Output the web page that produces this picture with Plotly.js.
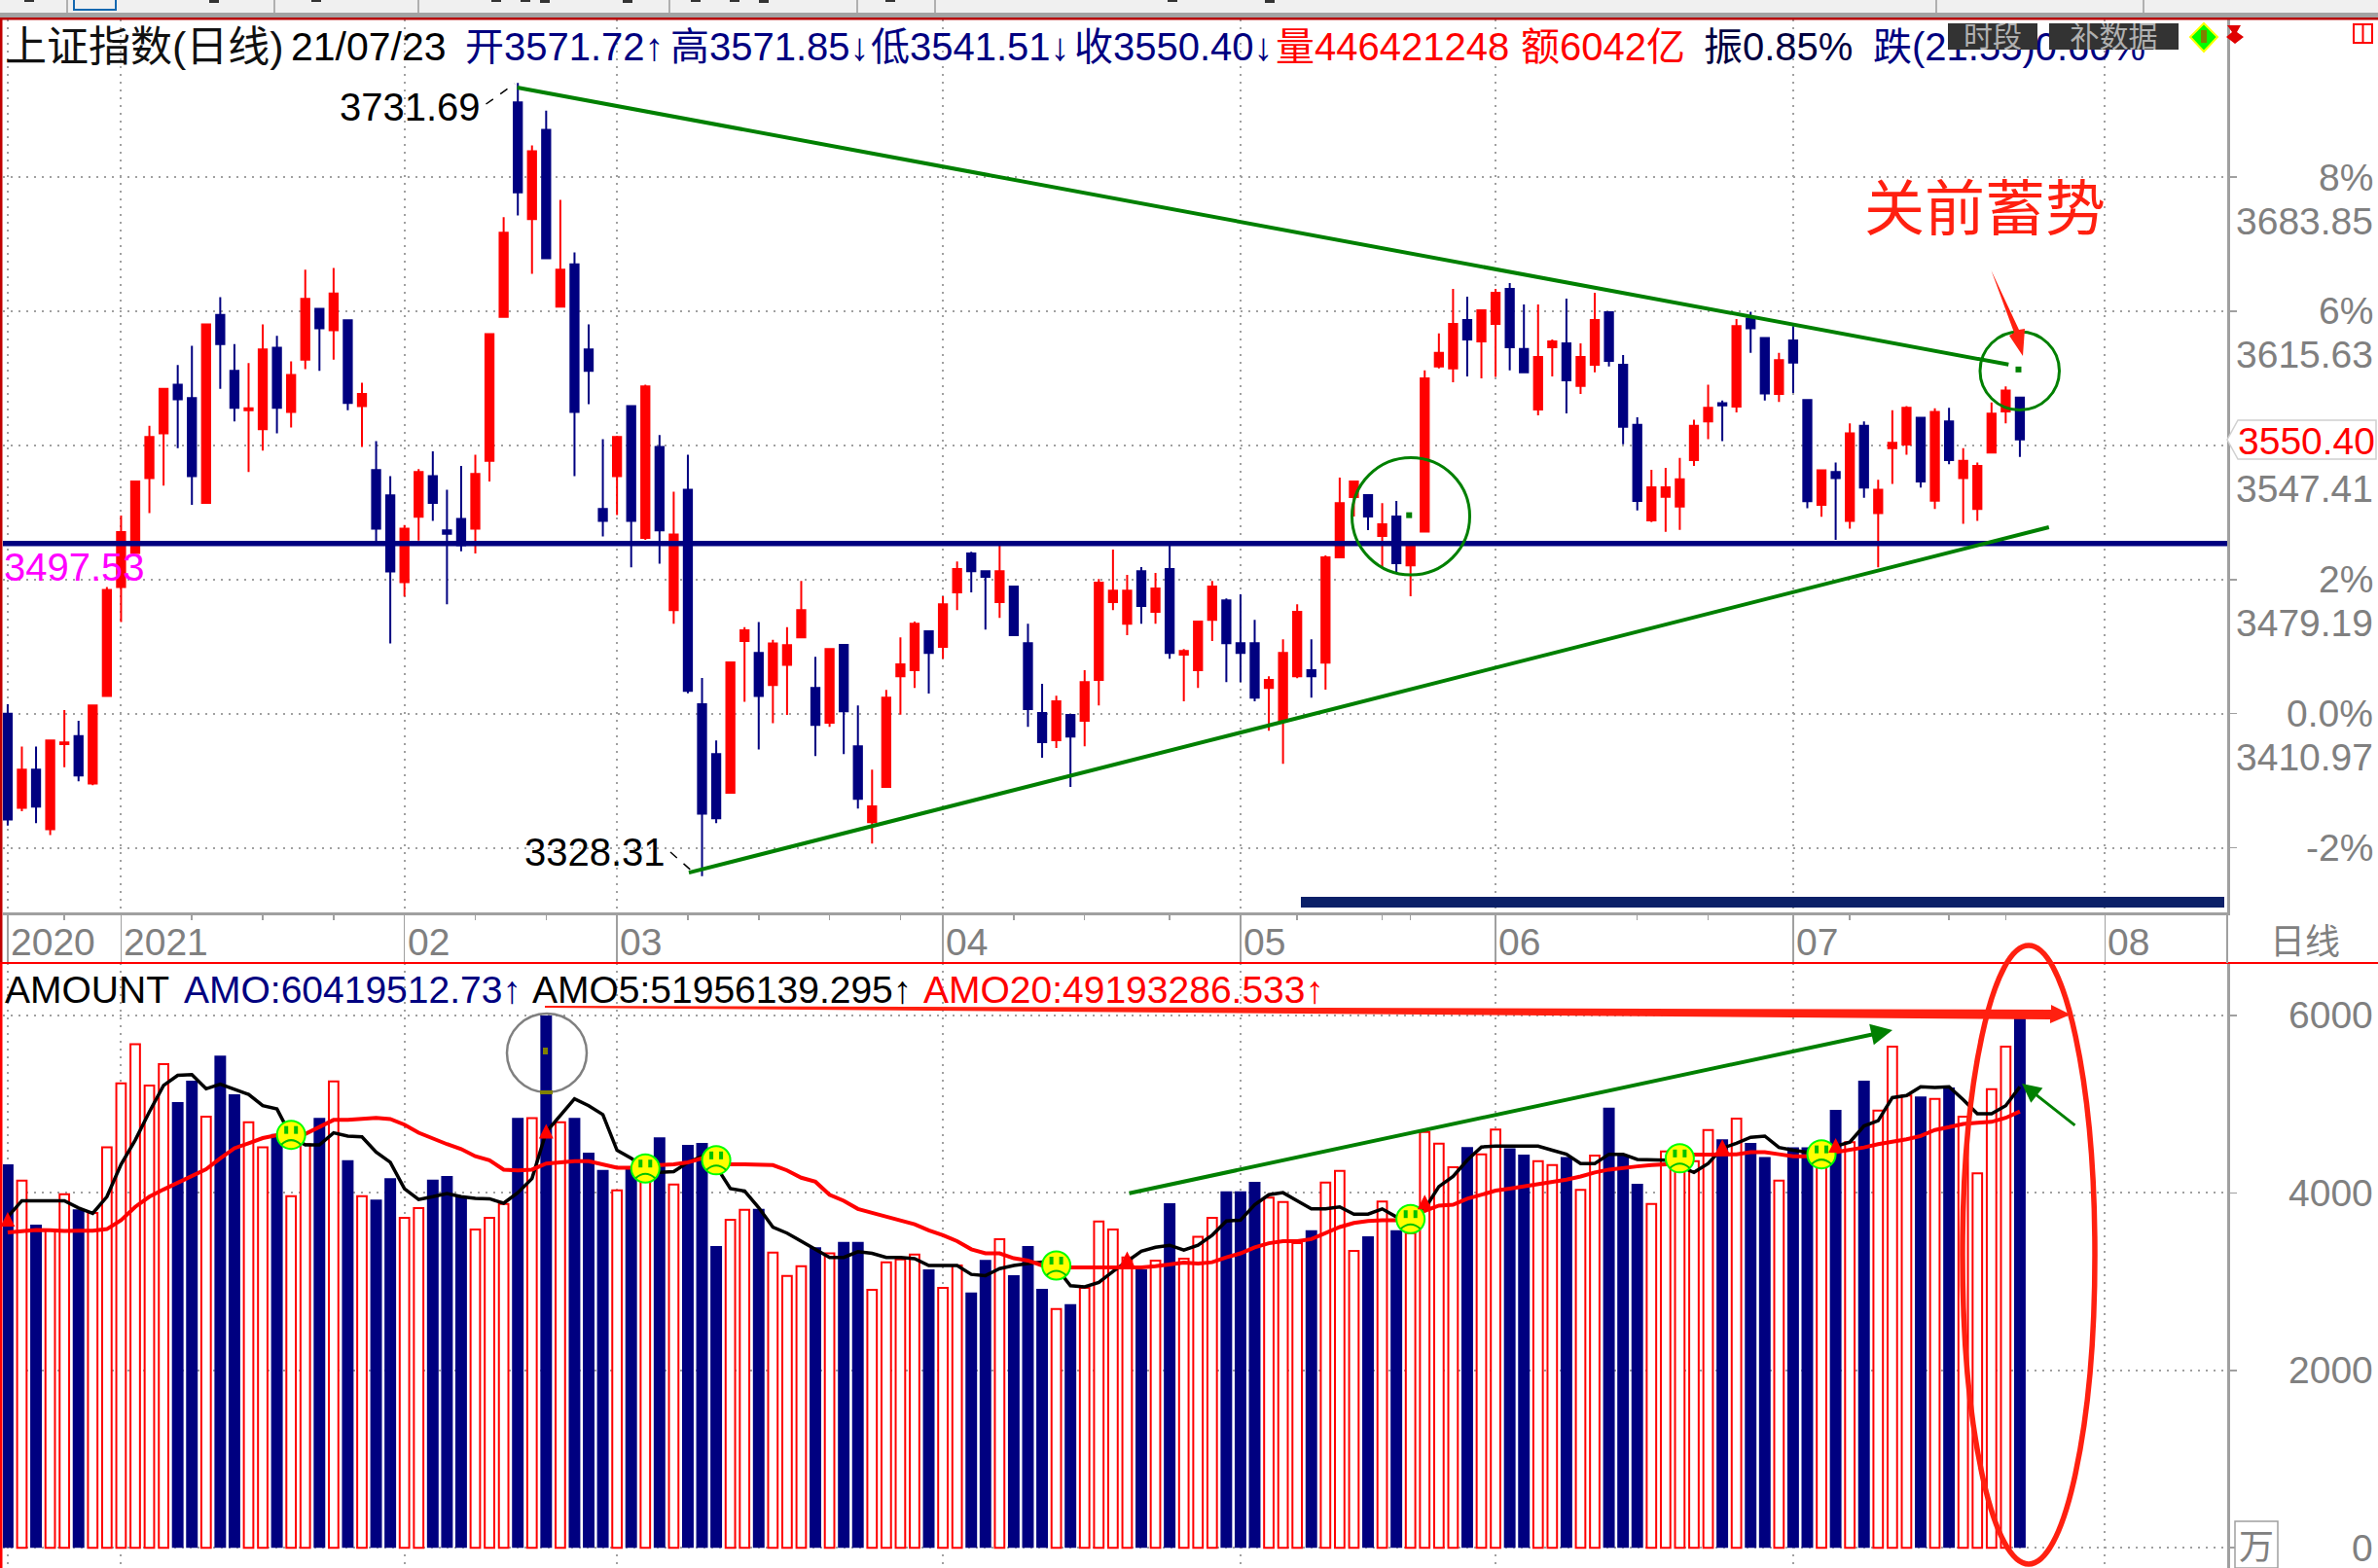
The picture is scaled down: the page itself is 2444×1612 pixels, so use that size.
<!DOCTYPE html>
<html><head><meta charset="utf-8">
<script src="https://cdn.plot.ly/plotly-3.0.1.min.js"></script>
<style>html,body{margin:0;padding:0;background:#fff}#c{width:2444px;height:1612px}</style>
</head><body><div id="c"></div>
<script>
// Candles, one per trading day, 2020-12-22 .. 2021-07-23
const opens=[3410.97,3363.1,3382.5,3352.2,3395.5,3399.5,3375.5,3420,3475.4,3492.7,3530.8,3553.5,3578.3,3571.4,3518.1,3613.7,3585.3,3565.3,3555.6,3597.1,3564.4,3591,3616.8,3605.9,3611,3567.4,3534.8,3522,3477.8,3511.1,3531.7,3504.2,3510,3505.1,3539.6,3612.8,3721.8,3662.5,3707.9,3618,3639.5,3596.2,3515.1,3531.7,3567.4,3500.3,3546.6,3463.6,3524.8,3415.8,3390.4,3370.7,3447.9,3441.8,3425.5,3435.8,
3449.8,3424,3406.4,3445.9,3394.4,3355.8,3373.7,3430,3433.1,3452.8,3444.9,3472.6,3492.4,3483.4,3467.7,3475.6,3446.8,3411.3,3397.4,3410.3,3407.3,3428.1,3467.7,3456.7,3483.4,3462.8,3484.5,3441,3433.1,3458.7,3468.6,3446.8,3446.8,3424,3407.3,3430,3433.1,3436.9,3490.5,3521.1,3522.1,3501.3,3511.2,3486.4,
3503.6,3587.5,3586.5,3611.2,3600.3,3609.2,3627,3596.4,3565.7,3597.3,3599.3,3577.6,3588.4,3615.1,3588.4,3557.8,3509.3,3521.2,3516.3,3539.9,3559.6,3568.9,3567.1,3611.9,3602,3573.5,3600.7,3570.5,3517.2,3533.8,3509,3557.4,3513,3546,3547.8,3561.4,3519.3,3559.6,3530.8,3515.1,3543.8,3564.7,3571.72];
const highs=[3415.8,3394.3,3394.3,3397.3,3412.8,3407.3,3415.2,3475.4,3511.7,3529,3557.4,3576.2,3588.3,3598,3608.9,3622.8,3598.9,3589.2,3608.9,3603.1,3590.1,3636.7,3616.8,3637.6,3611,3579.2,3549.6,3531.7,3506.9,3535.3,3544.4,3524.8,3536.9,3542.6,3604,3663.4,3731.69,3700,3717.6,3672.2,3645.5,3608.9,3550.5,3552.3,3567.4,3578.3,3552.6,3523.8,3542.6,3429.1,3397.3,3437,3454.9,3457.6,3448.5,3454.9,
3478.5,3439.9,3443.8,3445.9,3415.2,3382.5,3423,3449.8,3457.8,3452.8,3470.7,3488.4,3493.3,3483.4,3497.4,3475.6,3456.7,3426.2,3420.1,3410.3,3433.1,3479.5,3494.4,3481.5,3485.5,3482.5,3497.4,3443.8,3457.8,3478.5,3469.6,3471.6,3458.7,3430,3448.8,3466.6,3448.8,3491.4,3531,3529,3522.1,3518,3519.1,3496.5,
3585.5,3604.3,3627,3623,3616.1,3627,3630,3619.1,3619.1,3601.3,3622,3599.3,3625,3615.1,3593.4,3561.7,3535,3536,3541,3560.5,3578.3,3570.2,3611.6,3615.3,3602,3594.4,3608,3570.5,3534.7,3538.7,3558.6,3559.6,3529.9,3565.3,3567.4,3561.4,3566.2,3566.5,3546,3538.7,3569.2,3577.4,3571.85];
const lows=[3354.1,3361.3,3355.3,3349.2,3383.7,3376.5,3374.6,3420,3457.6,3492.7,3513,3526.9,3546,3517.2,3518.1,3576.2,3559.6,3533.8,3544.7,3553.5,3556.5,3586.2,3585.3,3591,3565.3,3546.6,3498.1,3446.7,3470.6,3499,3509,3466.6,3493.6,3492.4,3529,3612.8,3664.3,3634.6,3642.5,3618,3531.7,3568.3,3501.1,3512,3485.4,3499.3,3487.2,3456.7,3421.3,3328.31,3355.3,3370.7,3417,3392.8,3406.1,3410.3,
3449.8,3389.4,3404.2,3390.4,3362.7,3344.9,3373.7,3410.4,3424,3421.2,3438.9,3463.6,3472.6,3453.7,3459.7,3450.9,3404.2,3388.5,3393.5,3373.7,3394.4,3415.2,3463.6,3450.9,3456.7,3456.7,3438.9,3417.2,3424,3447.9,3427,3427,3417.2,3402.3,3385.5,3429,3419.1,3423.2,3490.5,3511.2,3504.3,3485.5,3482.5,3470.7,
3503.6,3586.5,3579.5,3582.5,3581.5,3582.2,3585.5,3584.5,3562.7,3582.5,3563.7,3573.6,3584.5,3587.5,3547.9,3514.3,3508.4,3503.4,3504.4,3536.9,3550.5,3549.6,3564.1,3594.4,3570.2,3569.5,3574.1,3515.4,3511.1,3499.3,3505.1,3520.8,3485.4,3527.8,3542.6,3526,3515.1,3537.8,3507.5,3509,3543.8,3558.6,3541.51];
const closes=[3357.1,3382.5,3363.7,3397.3,3396.4,3379.5,3415.2,3473.9,3503.3,3529,3551.7,3576.2,3570.8,3531.7,3608.9,3598.9,3566.5,3566.2,3596.2,3566.5,3583.2,3621.9,3607,3624.6,3569,3573.5,3505.1,3483.3,3505.1,3533.8,3518.1,3502.4,3496.6,3532.9,3604,3655.5,3676.1,3697,3642.5,3636.7,3564.4,3585.3,3509,3551.7,3509,3577.4,3504.2,3502.1,3422.5,3360.1,3357.7,3437,3453.3,3420,3446.7,3445.8,
3463.6,3405.3,3443.8,3412.2,3367.6,3363.8,3419.1,3436.1,3456.7,3441.9,3466.6,3484.5,3483.4,3480.6,3483.4,3450.9,3413.3,3396.5,3417.2,3399.3,3427,3477.6,3473.5,3473.5,3465.7,3474.6,3441.9,3442.9,3457.8,3475.6,3446.8,3441.9,3419.1,3428.1,3441.9,3462.8,3430,3490.5,3518,3529,3511.2,3507.3,3487.5,3496.5,
3581.5,3594.4,3609.2,3601.3,3616.1,3625,3597.3,3584.5,3592.4,3600.3,3580.5,3592.4,3611.2,3590.4,3556.8,3519.2,3526.1,3526.1,3530.1,3557.4,3566.5,3567.7,3608,3607,3573.8,3590.7,3589.5,3519,3534.7,3530.8,3553.5,3526,3524.8,3548.7,3566.5,3529,3564.4,3539.9,3539.6,3536.9,3563.5,3575.3,3550.40];
// Turnover (unit: 万 scale as printed on the axis)
const amount=[4322,4140,3643,3579,3985,3816,3775,4513,5234,5676,5211,5453,5024,5266,4860,5548,5111,4796,4513,4664,3962,4550,4846,5257,4368,3962,3925,4167,3720,3830,4149,4190,3957,3588,3720,3875,4846,4842,6000,4796,4846,4454,4258,4030,4276,4185,4627,4094,4541,4564,3401,3697,3811,3820,3328,3064,
3173,3387,3319,3447,3447,2909,3219,3251,3305,3137,2931,3182,2877,3246,3479,3073,3401,2918,2690,2745,2931,3679,3588,3273,3137,3237,3884,3260,3506,3720,4017,4017,4126,3948,3898,3433,3579,4117,4249,3346,3510,3903,3579,3547,
4687,4554,4290,4518,4436,4714,4504,4431,4358,4313,4404,4035,4422,4960,4422,4103,3875,4468,4345,4358,4709,4605,4837,4564,4404,4140,4513,4513,4413,4937,4573,5266,4928,5649,5097,5088,5060,5188,4860,4222,5170,5649,6042];
const amo5=[3729,3912,3912,3912,3912,3830,3770,3957,4322,4595,4915,5211,5325,5334,5174,5225,5165,5111,4983,4946,4641,4541,4541,4678,4641,4632,4459,4345,4048,3925,3957,3994,3957,3939,3934,3884,4003,4162,4687,4869,5060,4983,4883,4481,4390,4276,4231,4240,4345,4413,4299,4048,4021,3834,3615,3547,
3456,3355,3273,3273,3337,3319,3273,3273,3260,3182,3182,3182,3082,3068,3146,3182,3205,3219,3159,2954,2941,2991,3114,3228,3342,3387,3410,3355,3410,3524,3684,3693,3866,3980,4003,3912,3820,3820,3843,3761,3761,3820,3729,3684,
3820,4071,4185,4368,4518,4527,4527,4527,4527,4481,4436,4331,4331,4436,4436,4377,4368,4368,4299,4231,4331,4504,4559,4627,4641,4513,4481,4459,4436,4527,4573,4755,4814,5074,5097,5197,5188,5197,5051,4892,4892,4983,5196];
const amo20=[3556,3570,3583,3579,3570,3574,3574,3592,3693,3843,3957,4039,4117,4185,4267,4390,4504,4559,4618,4650,4641,4664,4741,4823,4823,4833,4846,4833,4769,4678,4609,4550,4495,4413,4368,4263,4254,4263,4331,4345,4358,4358,4322,4285,4285,4285,4313,4322,4345,4390,4345,4322,4322,4322,4313,4254,
4171,4126,3980,3912,3820,3775,3729,3684,3647,3579,3524,3456,3365,3319,3319,3264,3237,3182,3159,3159,3159,3159,3159,3159,3159,3173,3191,3214,3205,3219,3273,3319,3387,3433,3456,3456,3479,3547,3615,3661,3684,3693,3693,3706,
3798,3857,3866,3934,3980,4026,4048,4071,4094,4117,4149,4185,4231,4263,4285,4299,4313,4322,4377,4431,4431,4436,4436,4459,4459,4436,4413,4413,4413,4459,4481,4513,4550,4573,4605,4641,4709,4741,4778,4791,4801,4846,4919];
// Axis labels
const monthIdx=[0,8,28,43,66,87,105,126,148];
const monthText=['2020','2021','02','03','04','05','06','07','08'];
const weekIdx=[4,13,18,23,33,38,48,53,58,63,71,76,82,91,97,99,115,120,130,137,141];
const pctVals=[3274.53,3342.75,3410.97,3479.19,3547.41,3615.63,3683.85];
const priceTicks=[3410.97,3479.19,3547.41,3615.63,3683.85];
const priceText=['3410.97','3479.19','3547.41','3615.63','3683.85'];
const pctTicks=[3342.75,3410.97,3479.19,3615.63,3683.85];
const pctText=['-2%','0.0%','2%','6%','8%'];
const amtTicks=[0,2000,4000,6000];
// Drawn-on annotation values
const supportLevel=3497.53;
const upperTrendX=[35.96,141.2], upperTrendY=[3729.4,3588.5];
const lowerTrendX=[48.07,144.05], lowerTrendY=[3330.1,3505.8];
const faceX=[20,45,50,74,99,118,128], faceY=[4655,4276,4368,3182,3706,4390,4436];
const upX=[0,38,79,100,121,129], upY=[3784,4778,3342,3980,4605,4618];
const dotX=[98.9,141.9], dotY=[3511.9,3586.0];

const W=2444,H=1612;
const px=x=>x/W, py=y=>1-y/H;
const idx=opens.map((_,i)=>i);
const isUp=idx.map(i=>closes[i]>=opens[i]);
const upI=idx.filter(i=>isUp[i]), dnI=idx.filter(i=>!isUp[i]);
const NAVY='#000080', RED='#ff0000', GRN='#008000', GRAY='#808080', HRED='#ff2010';
const FONT='"Liberation Sans",Arial,sans-serif', CJK='"Liberation Sans","Noto Sans CJK SC",sans-serif';

const traces=[
 {type:'candlestick',x:idx,open:opens,high:highs,low:lows,close:closes,xaxis:'x',yaxis:'y',whiskerwidth:0,hoverinfo:'skip',showlegend:false,
  increasing:{line:{color:RED,width:2},fillcolor:RED},decreasing:{line:{color:NAVY,width:2},fillcolor:NAVY}},
 {type:'bar',x:dnI,y:dnI.map(i=>amount[i]),xaxis:'x2',yaxis:'y2',width:0.82,marker:{color:NAVY,line:{width:0}},hoverinfo:'skip',showlegend:false},
 {type:'bar',x:upI,y:upI.map(i=>amount[i]),xaxis:'x2',yaxis:'y2',width:0.67,marker:{color:'#ffffff',line:{color:RED,width:2}},hoverinfo:'skip',showlegend:false},
 {type:'scatter',mode:'lines',x:idx,y:amo5,xaxis:'x2',yaxis:'y2',line:{color:'#000000',width:3.5},hoverinfo:'skip',showlegend:false},
 {type:'scatter',mode:'lines',x:idx,y:amo20,xaxis:'x2',yaxis:'y2',line:{color:RED,width:4},hoverinfo:'skip',showlegend:false},
 {type:'scatter',mode:'markers',x:faceX,y:faceY,xaxis:'x2',yaxis:'y2',marker:{symbol:'circle',size:29,color:'#ffff00',line:{color:'#00ff00',width:2}},hoverinfo:'skip',showlegend:false},
 {type:'scatter',mode:'markers',x:dotX,y:dotY,xaxis:'x',yaxis:'y',marker:{symbol:'square',size:6,color:GRN},hoverinfo:'skip',showlegend:false}
];

const L=(x0,y0,x1,y1,color,width,dash)=>({type:'line',xref:'paper',yref:'paper',x0:px(x0),y0:py(y0),x1:px(x1),y1:py(y1),line:{color,width,dash:dash||'solid'},layer:'above'});
const R=(x0,y0,x1,y1,fill)=>({type:'rect',xref:'paper',yref:'paper',x0:px(x0),y0:py(y0),x1:px(x1),y1:py(y1),fillcolor:fill,line:{width:0},layer:'above'});
const E=(x0,y0,x1,y1,color,width)=>({type:'circle',xref:'paper',yref:'paper',x0:px(x0),y0:py(y0),x1:px(x1),y1:py(y1),line:{color,width},layer:'above'});
const Poly=(pts,fill,line)=>({type:'path',xref:'paper',yref:'paper',path:'M'+pts.map(p=>px(p[0])+','+py(p[1])).join('L')+'Z',fillcolor:fill,line:line||{width:0},layer:'above'});

const shapes=[
 R(0,0,W,13,'#f0f0f0'),R(0,13,W,18,'#a3a3a3'),R(0,18,W,20.5,'#b80000'),
 R(0,20,2.5,990,'#c00000'),R(0,990,2.5,H,'#ff0000'),
 L(0,990,W,990,RED,2),
 L(2289,938,2289,990,'#a0a0a0',2),
 R(1337,922,2286,933,'#0b2068'),
 {type:'line',xref:'paper',yref:'y',x0:px(3),x1:px(2289),y0:supportLevel,y1:supportLevel,line:{color:NAVY,width:5.5},layer:'above'},
 {type:'line',xref:'x',yref:'y',x0:upperTrendX[0],x1:upperTrendX[1],y0:upperTrendY[0],y1:upperTrendY[1],line:{color:GRN,width:4},layer:'above'},
 {type:'line',xref:'x',yref:'y',x0:lowerTrendX[0],x1:lowerTrendX[1],y0:lowerTrendY[0],y1:lowerTrendY[1],line:{color:GRN,width:4},layer:'above'},
 E(1389.5,470.5,1510.5,591,GRN,3),
 E(2035,341,2116.5,421.5,GRN,3),
 E(521,1042,603,1123,GRAY,2.5),
 R(558,1077,563,1084,'#808000'),R(555,1121,568,1125,'#808000'),
 E(2017,972,2153,1608,HRED,5.5),
 L(499.5,107,529,86,'#000000',1.5,'dash'),
 L(689,876,714,898,'#000000',1.5,'dash'),
 Poly([[560,1034],[2108,1038],[2108,1033],[2128,1043],[2107,1052],[2107,1048],[560,1036]],HRED),
 Poly([[2046.5,278],[2070,342],[2065,345],[2079,366],[2081,338],[2075,339]],HRED),
 Poly([[2289,452],[2300,432],[2442,432],[2442,472],[2300,472]],'#ffffff',{color:'#d0d0d0',width:1.5}),
 R(2297,1564,2341,1612,'#ffffff'),
 {type:'rect',xref:'paper',yref:'paper',x0:px(2297),y0:py(1564),x1:px(2341),y1:py(1612),line:{color:'#a0a0a0',width:1.5},layer:'above'},
 Poly([[2265,24],[2279,38],[2265,53],[2251,38]],'#00ff00',{color:'#ffff00',width:2}),
 R(2262,31,2268,44,'#808000'),
 {type:'rect',xref:'paper',yref:'paper',x0:px(2419),y0:py(25),x1:px(2438),y1:py(44),fillcolor:'#ffffff',line:{color:RED,width:2},layer:'above'},
 L(2428.5,25,2428.5,44,RED,2),
 Poly([[2289,26],[2303,26],[2299,33],[2306,38],[2297,45],[2288,38],[2294,33]],'#e00000')
];
// toolbar fragments
[68,281,429,687,880,960,1989,2202].forEach(x=>shapes.push(R(x,0,x+2,13,'#b0b0b0')));
shapes.push({type:'rect',xref:'paper',yref:'paper',x0:px(76),y0:py(-2),x1:px(119),y1:py(10),line:{color:'#1468b0',width:2},layer:'above'});
[[25,2],[215,3],[320,2],[505,2],[535,2],[555,3],[640,3],[710,2],[750,2],[780,3],[910,2],[1200,2],[1300,3]].forEach(a=>shapes.push(R(a[0],0,a[0]+10,a[1],'#333333')));

// Smiley faces anchored on their data values
faceX.forEach((x,i)=>{
 const y=faceY[i], base={xref:'x2',yref:'y2',xsizemode:'pixel',ysizemode:'pixel',xanchor:x,yanchor:y,layer:'above'};
 shapes.push({...base,type:'rect',x0:-7,x1:-3,y0:1,y1:9,fillcolor:'#00c000',line:{width:0}});
 shapes.push({...base,type:'rect',x0:3,x1:7,y0:1,y1:9,fillcolor:'#00c000',line:{width:0}});
 shapes.push({...base,type:'path',path:'M-10,-10 Q0,-1 10,-10',line:{color:'#00c000',width:2}});
});

const T=(x,y,text,color,size,anchor,font)=>({xref:'paper',yref:'paper',x:px(x),y:py(y),text,showarrow:false,xanchor:anchor||'left',yanchor:'middle',font:{family:font||FONT,size:size||40,color:color||'#000'},borderpad:0,borderwidth:0});

const ann=[
 T(5,48,'上证指数(日线)','#111',43,'left',CJK),
 T(299,48,'21/07/23','#000',41),
 T(478,48,'开3571.72↑',NAVY,40,'left',CJK),
 T(689,48,'高3571.85↓',NAVY,40,'left',CJK),
 T(895,48,'低3541.51↓',NAVY,40,'left',CJK),
 T(1104,48,'收3550.40↓',NAVY,40,'left',CJK),
 T(1311,48,'量446421248',RED,40,'left',CJK),
 T(1563,48,'额6042亿',RED,40,'left',CJK),
 T(1751,48,'振0.85%','#000040',40,'left',CJK),
 T(1925,48,'跌(21.55)0.60%',NAVY,40,'left',CJK),
 {...T(2048,37,'时段','#b0b0b0',30,'center',CJK),bgcolor:'#333333',width:92,height:27,align:'center'},
 {...T(2172,37,'补数据','#b0b0b0',30,'center',CJK),bgcolor:'#333333',width:133,height:27,align:'center'},
 T(349,110,'3731.69','#000',40),
 T(539,876,'3328.31','#000',40),
 T(4,583,'3497.53','#ff00ff',40),
 T(1916,210,'关前蓄势',HRED,62,'left','"Noto Sans CJK SC",sans-serif'),
 T(5,1017,'AMOUNT','#000',39),
 T(189,1017,'AMO:60419512.73↑',NAVY,39),
 T(547,1017,'AMO5:51956139.295↑','#000',39),
 T(949,1017,'AMO20:49193286.533↑',RED,39),
 T(2405,968,'日线',GRAY,36,'right',CJK),
 T(2319,1590,'万',GRAY,36,'center',CJK),
 T(2441,453,'3550.40',RED,39,'right')
];
priceTicks.forEach((v,i)=>ann.push({xref:'paper',yref:'y',x:px(2441),y:v,yshift:-45,text:priceText[i],showarrow:false,xanchor:'right',yanchor:'middle',font:{family:FONT,size:39,color:GRAY}}));
pctTicks.forEach((v,i)=>ann.push({xref:'paper',yref:'y',x:px(2441),y:v,text:pctText[i],showarrow:false,xanchor:'right',yanchor:'middle',font:{family:FONT,size:39,color:GRAY}}));
amtTicks.forEach(v=>ann.push({xref:'paper',yref:'y2',x:px(2441),y:v,text:String(v),showarrow:false,xanchor:'right',yanchor:'middle',font:{family:FONT,size:39,color:GRAY}}));
monthIdx.forEach((m,i)=>ann.push({xref:'x',yref:'paper',x:m,xshift:1,y:py(968),text:monthText[i],showarrow:false,xanchor:'left',yanchor:'middle',font:{family:FONT,size:39,color:GRAY}}));
upX.forEach((x,i)=>ann.push({xref:'x2',yref:'y2',x,y:upY[i],text:' ',showarrow:true,arrowhead:2,arrowsize:1,arrowwidth:3,arrowcolor:RED,ax:0,ay:22,standoff:0}));
// green hand-drawn arrows
ann.push({xref:'paper',yref:'paper',axref:'paper',ayref:'paper',x:px(1945),y:py(1059),ax:px(1159),ay:py(1227),text:'',showarrow:true,arrowhead:2,arrowsize:1.1,arrowwidth:4,arrowcolor:GRN});
ann.push({xref:'paper',yref:'paper',axref:'paper',ayref:'paper',x:px(2078),y:py(1114),ax:px(2134),ay:py(1158),text:'',showarrow:true,arrowhead:2,arrowsize:1.3,arrowwidth:3,arrowcolor:GRN});

const xBase={range:[-0.337,156.63],tickmode:'array',tickvals:monthIdx,ticktext:monthText.map(()=>''),showgrid:true,griddash:'2px,6px',gridcolor:'#a0a0a0',gridwidth:2,zeroline:false,fixedrange:true,showline:false};
const layout={width:W,height:H,autosize:false,margin:{l:0,r:0,t:0,b:0,pad:0},paper_bgcolor:'#ffffff',plot_bgcolor:'#ffffff',showlegend:false,barmode:'overlay',boxgap:0.43,boxgroupgap:0,
 xaxis:{...xBase,domain:[px(3),px(2289)],anchor:'y',rangeslider:{visible:false},showline:true,linecolor:'#a0a0a0',linewidth:2.5,ticks:'outside',ticklen:48,tickcolor:'#a0a0a0',tickwidth:1.5,
   minor:{tickmode:'array',tickvals:weekIdx,ticks:'outside',ticklen:5,tickcolor:'#a0a0a0',tickwidth:1.5,showgrid:false}},
 xaxis2:{...xBase,domain:[px(3),px(2289)],anchor:'y2',matches:'x',ticks:''},
 yaxis:{domain:[py(938),py(20)],range:[3309.9,3764.0],side:'right',anchor:'x',tickmode:'array',tickvals:pctVals,ticktext:pctVals.map(()=>''),showgrid:true,griddash:'2px,6px',gridcolor:'#a0a0a0',gridwidth:2,zeroline:false,fixedrange:true,showline:true,linecolor:'#a0a0a0',linewidth:2.5,ticks:'outside',ticklen:7,tickcolor:'#a0a0a0',tickwidth:1.5},
 yaxis2:{domain:[0,py(990)],range:[-228,6592],side:'right',anchor:'x2',tickmode:'array',tickvals:amtTicks,ticktext:amtTicks.map(()=>''),showgrid:true,griddash:'2px,6px',gridcolor:'#a0a0a0',gridwidth:2,zeroline:false,fixedrange:true,showline:true,linecolor:'#a0a0a0',linewidth:2.5,ticks:'outside',ticklen:7,tickcolor:'#a0a0a0',tickwidth:1.5},
 shapes,annotations:ann,hovermode:false
};
Plotly.newPlot('c',traces,layout,{staticPlot:true,displayModeBar:false});
</script></body></html>
